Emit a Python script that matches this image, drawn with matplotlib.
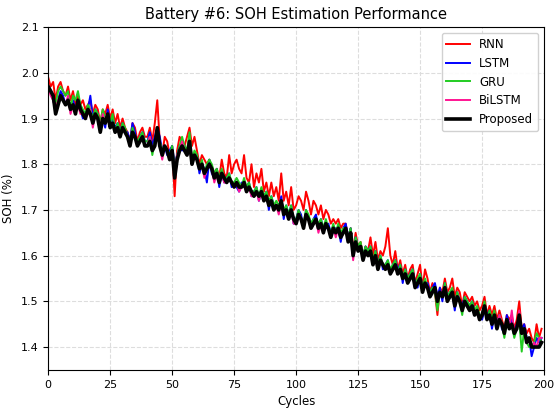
import matplotlib
matplotlib.use("Agg")
import matplotlib.pyplot as plt
import numpy as np

# SOH estimates, one value per cycle (0..199)
proposed = [
    1.97, 1.96, 1.95, 1.91, 1.93, 1.95, 1.94, 1.93, 1.94, 1.92,
    1.93, 1.91, 1.94, 1.92, 1.91, 1.90, 1.92, 1.91, 1.89, 1.91,
    1.90, 1.87, 1.90, 1.89, 1.91, 1.88, 1.89, 1.87, 1.88, 1.86,
    1.88, 1.87, 1.86, 1.84, 1.87, 1.86, 1.84, 1.85, 1.86, 1.84,
    1.84, 1.85, 1.83, 1.84, 1.88, 1.84, 1.82, 1.84, 1.83, 1.81,
    1.83, 1.77, 1.81, 1.83, 1.84, 1.83, 1.82, 1.85, 1.80, 1.82,
    1.81, 1.79, 1.80, 1.78, 1.79, 1.80, 1.79, 1.77, 1.78, 1.76,
    1.78, 1.77, 1.76, 1.77, 1.76, 1.75, 1.76, 1.75, 1.75, 1.76,
    1.74, 1.75, 1.74, 1.73, 1.74, 1.73, 1.74, 1.72, 1.73, 1.71,
    1.72, 1.70, 1.71, 1.70, 1.72, 1.69, 1.70, 1.68, 1.70, 1.68,
    1.67, 1.69, 1.68, 1.66, 1.69, 1.68, 1.66, 1.67, 1.68, 1.66,
    1.67, 1.65, 1.67, 1.66, 1.64, 1.66, 1.65, 1.66, 1.64, 1.65,
    1.66, 1.63, 1.65, 1.60, 1.63, 1.61, 1.62, 1.59, 1.61, 1.60,
    1.61, 1.58, 1.60, 1.57, 1.59, 1.58, 1.57, 1.58, 1.56, 1.57,
    1.58, 1.56, 1.57, 1.55, 1.56, 1.54, 1.55, 1.56, 1.53, 1.54,
    1.55, 1.52, 1.54, 1.53, 1.51, 1.52, 1.53, 1.50, 1.52, 1.51,
    1.53, 1.50, 1.51, 1.52, 1.49, 1.51, 1.50, 1.48, 1.50, 1.49,
    1.48, 1.49, 1.47, 1.48, 1.46, 1.47, 1.49, 1.46, 1.47, 1.45,
    1.47, 1.44, 1.46, 1.45, 1.43, 1.46, 1.44, 1.45, 1.43, 1.44,
    1.47, 1.43, 1.44, 1.41, 1.42, 1.40, 1.40, 1.40, 1.40, 1.41,
]

rnn = [
    1.99, 1.97, 1.98, 1.94, 1.97, 1.98, 1.96, 1.95, 1.97, 1.94,
    1.96, 1.93, 1.95, 1.93, 1.94, 1.92, 1.93, 1.94, 1.91, 1.93,
    1.92, 1.89, 1.92, 1.91, 1.93, 1.90, 1.92, 1.89, 1.91, 1.88,
    1.90, 1.88, 1.87, 1.85, 1.89, 1.88, 1.85, 1.87, 1.88, 1.86,
    1.86, 1.88, 1.85, 1.89, 1.94, 1.85, 1.82, 1.86, 1.85, 1.82,
    1.84, 1.73, 1.83, 1.86, 1.85, 1.84, 1.86, 1.88, 1.84, 1.86,
    1.83, 1.80, 1.82, 1.81, 1.80, 1.81, 1.79, 1.78, 1.79, 1.77,
    1.81, 1.78, 1.77, 1.82, 1.78, 1.80, 1.81, 1.79, 1.78, 1.82,
    1.77, 1.76, 1.80, 1.75, 1.78, 1.76, 1.79, 1.74, 1.76, 1.73,
    1.76, 1.73, 1.75, 1.72, 1.78, 1.72, 1.74, 1.71, 1.75, 1.70,
    1.71, 1.73, 1.72, 1.70, 1.74, 1.72, 1.69, 1.72, 1.71, 1.69,
    1.71, 1.68, 1.70, 1.69, 1.67, 1.68, 1.67, 1.68, 1.66, 1.67,
    1.67, 1.64, 1.66, 1.61, 1.65, 1.62, 1.63, 1.60, 1.62, 1.61,
    1.64, 1.60, 1.63, 1.59, 1.61, 1.60, 1.62, 1.66, 1.60, 1.58,
    1.61, 1.57, 1.59, 1.56, 1.58, 1.55, 1.57, 1.58, 1.54, 1.56,
    1.58, 1.53, 1.57, 1.55, 1.52, 1.54, 1.52, 1.47, 1.53, 1.52,
    1.55, 1.52, 1.53, 1.55, 1.51, 1.53, 1.52, 1.49, 1.52, 1.51,
    1.50, 1.51, 1.49, 1.50, 1.48, 1.49, 1.51, 1.47, 1.49, 1.47,
    1.49, 1.46, 1.48, 1.46, 1.44, 1.47, 1.46, 1.47, 1.44, 1.46,
    1.50, 1.44, 1.45, 1.43, 1.44, 1.42, 1.41, 1.45, 1.42, 1.44,
]

lstm = [
    1.97, 1.96, 1.94, 1.92, 1.94, 1.96, 1.95, 1.93, 1.94, 1.93,
    1.94, 1.92, 1.93, 1.92, 1.90, 1.91, 1.92, 1.95, 1.90, 1.92,
    1.91, 1.88, 1.90, 1.88, 1.92, 1.89, 1.90, 1.88, 1.89, 1.87,
    1.89, 1.87, 1.87, 1.85, 1.89, 1.87, 1.84, 1.86, 1.87, 1.85,
    1.85, 1.87, 1.84, 1.86, 1.88, 1.86, 1.83, 1.84, 1.82, 1.83,
    1.84, 1.80, 1.82, 1.84, 1.83, 1.84, 1.83, 1.85, 1.81, 1.82,
    1.82, 1.78, 1.80, 1.79, 1.76, 1.81, 1.78, 1.77, 1.79, 1.75,
    1.78, 1.76, 1.77, 1.78, 1.75, 1.76, 1.75, 1.74, 1.76, 1.75,
    1.75, 1.76, 1.73, 1.74, 1.75, 1.72, 1.74, 1.73, 1.74, 1.70,
    1.73, 1.71, 1.71, 1.70, 1.73, 1.68, 1.71, 1.69, 1.71, 1.67,
    1.68, 1.70, 1.69, 1.66, 1.70, 1.68, 1.67, 1.68, 1.69, 1.66,
    1.68, 1.66, 1.66, 1.67, 1.65, 1.65, 1.66, 1.66, 1.63, 1.66,
    1.67, 1.64, 1.66, 1.61, 1.64, 1.62, 1.62, 1.60, 1.62, 1.61,
    1.62, 1.58, 1.61, 1.58, 1.60, 1.57, 1.58, 1.59, 1.56, 1.58,
    1.59, 1.57, 1.58, 1.54, 1.57, 1.55, 1.56, 1.57, 1.54, 1.53,
    1.56, 1.53, 1.54, 1.54, 1.52, 1.53, 1.54, 1.51, 1.53, 1.50,
    1.54, 1.51, 1.52, 1.52, 1.48, 1.52, 1.50, 1.49, 1.51, 1.50,
    1.49, 1.50, 1.48, 1.48, 1.47, 1.46, 1.48, 1.47, 1.48, 1.44,
    1.47, 1.45, 1.47, 1.44, 1.43, 1.47, 1.45, 1.46, 1.43, 1.45,
    1.46, 1.44, 1.45, 1.42, 1.42, 1.38, 1.40, 1.42, 1.41, 1.42,
]

gru = [
    1.97, 1.96, 1.95, 1.93, 1.96, 1.97, 1.96, 1.95, 1.96, 1.92,
    1.95, 1.94, 1.96, 1.93, 1.92, 1.91, 1.93, 1.92, 1.90, 1.92,
    1.91, 1.89, 1.92, 1.90, 1.91, 1.89, 1.91, 1.87, 1.89, 1.87,
    1.89, 1.88, 1.86, 1.85, 1.88, 1.86, 1.85, 1.86, 1.87, 1.85,
    1.85, 1.86, 1.82, 1.85, 1.87, 1.85, 1.83, 1.84, 1.83, 1.82,
    1.84, 1.79, 1.82, 1.84, 1.86, 1.84, 1.83, 1.87, 1.81, 1.83,
    1.82, 1.79, 1.81, 1.78, 1.80, 1.81, 1.80, 1.78, 1.79, 1.77,
    1.79, 1.77, 1.77, 1.78, 1.76, 1.76, 1.77, 1.76, 1.75, 1.77,
    1.75, 1.76, 1.74, 1.74, 1.75, 1.73, 1.75, 1.73, 1.74, 1.72,
    1.73, 1.71, 1.72, 1.71, 1.72, 1.70, 1.71, 1.69, 1.71, 1.68,
    1.68, 1.70, 1.68, 1.67, 1.70, 1.69, 1.67, 1.68, 1.68, 1.67,
    1.68, 1.66, 1.68, 1.66, 1.65, 1.67, 1.65, 1.67, 1.65, 1.66,
    1.66, 1.64, 1.66, 1.61, 1.64, 1.62, 1.63, 1.60, 1.62, 1.61,
    1.62, 1.59, 1.61, 1.58, 1.60, 1.58, 1.58, 1.59, 1.57, 1.58,
    1.59, 1.56, 1.58, 1.55, 1.57, 1.55, 1.56, 1.57, 1.53, 1.55,
    1.56, 1.53, 1.55, 1.53, 1.52, 1.53, 1.52, 1.48, 1.52, 1.51,
    1.54, 1.51, 1.52, 1.53, 1.49, 1.52, 1.50, 1.47, 1.51, 1.50,
    1.49, 1.50, 1.48, 1.49, 1.47, 1.47, 1.50, 1.46, 1.48, 1.46,
    1.48, 1.44, 1.47, 1.45, 1.42, 1.46, 1.44, 1.45, 1.42, 1.44,
    1.46, 1.39, 1.44, 1.41, 1.40, 1.40, 1.41, 1.43, 1.42, 1.41,
]

bilstm = [
    1.97, 1.95, 1.94, 1.92, 1.94, 1.95, 1.94, 1.93, 1.95, 1.91,
    1.93, 1.92, 1.93, 1.91, 1.91, 1.90, 1.91, 1.92, 1.88, 1.91,
    1.90, 1.88, 1.91, 1.89, 1.90, 1.88, 1.89, 1.87, 1.88, 1.86,
    1.88, 1.87, 1.86, 1.84, 1.87, 1.86, 1.84, 1.85, 1.86, 1.84,
    1.84, 1.86, 1.83, 1.84, 1.88, 1.84, 1.81, 1.84, 1.83, 1.81,
    1.83, 1.78, 1.82, 1.83, 1.85, 1.83, 1.82, 1.85, 1.80, 1.82,
    1.81, 1.79, 1.80, 1.77, 1.79, 1.80, 1.79, 1.76, 1.78, 1.76,
    1.78, 1.76, 1.76, 1.77, 1.76, 1.75, 1.76, 1.74, 1.75, 1.76,
    1.74, 1.75, 1.73, 1.73, 1.74, 1.72, 1.74, 1.72, 1.73, 1.71,
    1.72, 1.70, 1.71, 1.69, 1.72, 1.69, 1.70, 1.68, 1.70, 1.67,
    1.67, 1.69, 1.68, 1.66, 1.69, 1.68, 1.66, 1.67, 1.68, 1.65,
    1.67, 1.65, 1.67, 1.66, 1.64, 1.66, 1.64, 1.66, 1.64, 1.65,
    1.66, 1.63, 1.65, 1.59, 1.63, 1.61, 1.62, 1.59, 1.61, 1.60,
    1.61, 1.58, 1.60, 1.57, 1.59, 1.58, 1.57, 1.58, 1.56, 1.57,
    1.58, 1.56, 1.57, 1.55, 1.56, 1.54, 1.55, 1.56, 1.53, 1.54,
    1.55, 1.52, 1.54, 1.53, 1.51, 1.52, 1.53, 1.50, 1.52, 1.51,
    1.53, 1.50, 1.51, 1.52, 1.49, 1.51, 1.50, 1.48, 1.50, 1.49,
    1.48, 1.49, 1.47, 1.48, 1.46, 1.47, 1.49, 1.46, 1.47, 1.45,
    1.47, 1.44, 1.47, 1.45, 1.43, 1.46, 1.44, 1.48, 1.43, 1.44,
    1.48, 1.43, 1.44, 1.41, 1.42, 1.40, 1.41, 1.40, 1.42, 1.42,
]

cycles = np.arange(len(proposed))

fig = plt.figure(figsize=(5.54, 4.11), dpi=100)
ax = fig.add_axes([0.087, 0.10, 0.895, 0.834])

ax.plot(cycles, rnn, color='red', lw=1.4, label='RNN')
ax.plot(cycles, lstm, color='blue', lw=1.4, label='LSTM')
ax.plot(cycles, gru, color='#22cc22', lw=1.4, label='GRU')
ax.plot(cycles, bilstm, color='#ff1493', lw=1.4, label='BiLSTM')
ax.plot(cycles, proposed, color='black', lw=2.6, label='Proposed')

ax.set_xlim(0, 200)
ax.set_ylim(1.35, 2.1)
ax.set_xticks([0, 25, 50, 75, 100, 125, 150, 175, 200])
ax.set_yticks([1.4, 1.5, 1.6, 1.7, 1.8, 1.9, 2.0, 2.1])
ax.tick_params(labelsize=8)
ax.grid(True, linestyle='--', color='#dddddd', linewidth=0.8)

ax.set_title('Battery #6: SOH Estimation Performance', fontsize=10.5)
ax.set_xlabel('Cycles', fontsize=8.5)
ax.set_ylabel('SOH (%)', fontsize=8.5)
ax.legend(loc='upper right', fontsize=8.5, framealpha=0.9)

fig.savefig('out.png', dpi=100)
